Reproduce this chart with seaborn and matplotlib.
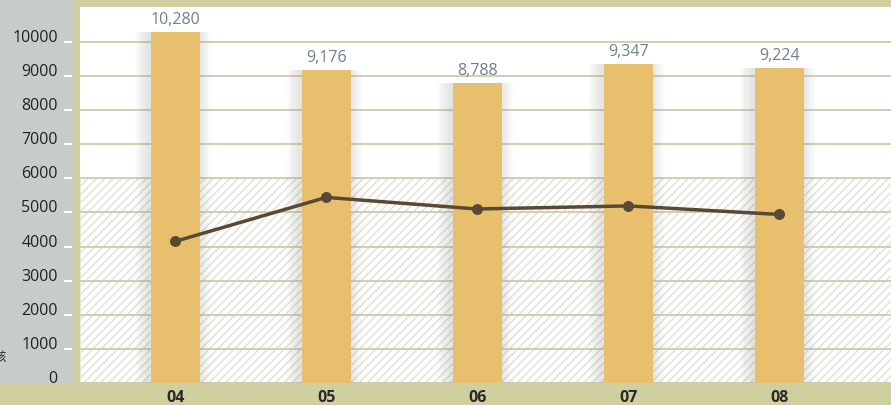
import matplotlib
matplotlib.use("Agg")
import matplotlib.pyplot as plt
import matplotlib.transforms as mtransforms
from matplotlib.patches import Rectangle
import seaborn as sns

# data
years = ["04", "05", "06", "07", "08"]
bar_values = [10280, 9176, 8788, 9347, 9224]
line_values = [4150, 5440, 5100, 5190, 4940]
yticks = [0, 1000, 2000, 3000, 4000, 5000, 6000, 7000, 8000, 9000, 10000]

olive = "#cfcf9f"
panel = "#c6cdc9"
bar_color = "#e8bf6c"
line_color = "#594834"
grid_color = "#cfcfb5"

sns.set_style("white")
plt.rcParams["font.family"] = ["Open Sans", "Noto Sans CJK SC", "DejaVu Sans"]
plt.rcParams["hatch.linewidth"] = 1.0

W, H = 891, 405
fig = plt.figure(figsize=(W / 100, H / 100), dpi=100, facecolor=olive)

# grey panel behind the y labels
fig.patches.append(Rectangle((0, 22 / H), 73 / W, 1 - 22 / H, transform=fig.transFigure,
                             facecolor=panel, edgecolor="none", zorder=-1))

ax = fig.add_axes([80 / W, 22 / H, (W - 80) / W, (383 - 7) / H])
ax.set_facecolor("white")

# hatched lower band
ax.axhspan(0, 6000, facecolor="none", edgecolor="#e0e0d2", hatch="////", linewidth=0.5, zorder=0)
for y in yticks:
    ax.axhline(y, color=grid_color, lw=1.4, zorder=0.5)

# soft shadow around the bars
pos = list(range(len(years)))
for k in range(1, 7):
    ax.bar([p - 0.012 for p in pos], bar_values, width=0.325 + 0.028 * k, color="#7d8080",
           alpha=0.035, edgecolor="none", zorder=1.5)

sns.barplot(x=years, y=bar_values, color=bar_color, width=0.325, saturation=1, ax=ax, zorder=2)
bars = ax.containers[-1]
for bar in bars:
    bar.set_edgecolor("none")
ax.bar_label(bars, labels=[f"{v:,}" for v in bar_values], padding=3,
             color="#6d808d", fontsize=11.5, zorder=4)

sns.pointplot(x=years, y=line_values, color=line_color, markersize=6, linewidth=2.5,
              ax=ax, zorder=3)

ax.set_xlim(-0.63, 4.74)
ax.set_ylim(0, 11020)
ax.set_yticks(yticks)
ax.set_yticklabels([str(v) for v in yticks], fontsize=11.5, color="#222222")
ax.tick_params(axis="y", length=0, pad=16)
ax.tick_params(axis="x", length=0, pad=5)
for lab in ax.get_xticklabels():
    lab.set_fontweight("bold")
    lab.set_fontsize(11.5)
    lab.set_color("#2a2a2a")
off = mtransforms.ScaledTranslation(0, 6 / 100, fig.dpi_scale_trans)
for lab in ax.get_yticklabels():
    lab.set_transform(lab.get_transform() + off)

# small white tick marks in the grey panel
trans = mtransforms.blended_transform_factory(ax.transAxes, ax.transData)
ax.hlines(yticks[1:], -16 / 811, -8 / 811, transform=trans, color="white", lw=1.5, clip_on=False)

for s in ax.spines.values():
    s.set_visible(False)
ax.set_xlabel("")
ax.set_ylabel("")

fig.text(0.007, 1 - 357 / H, "該", ha="right", va="center", fontsize=9, color="#333333")

fig.savefig("out.png", dpi=100, facecolor=olive)
